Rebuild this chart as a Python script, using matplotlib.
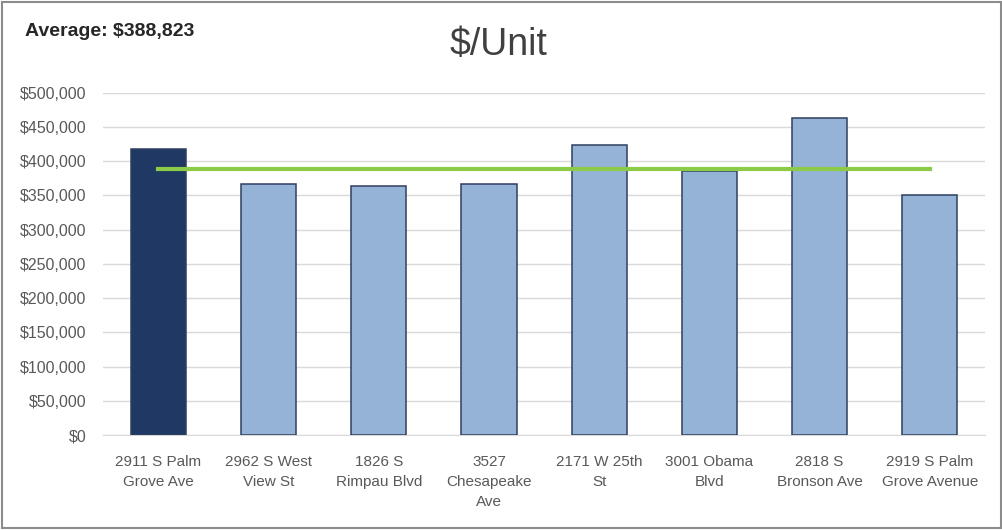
import matplotlib.pyplot as plt
from matplotlib.ticker import FuncFormatter, MultipleLocator

enderecos = ['2911 S Palm\nGrove Ave', '2962 S West\nView St', '1826 S\nRimpau Blvd',
             '3527\nChesapeake\nAve', '2171 W 25th\nSt', '3001 Obama\nBlvd',
             '2818 S\nBronson Ave', '2919 S Palm\nGrove Avenue']
valores = [417500, 367000, 364000, 367000, 424000, 386000, 462500, 350000]
media = 388823

plt.rcParams['font.family'] = ['Liberation Sans', 'DejaVu Sans']

fig = plt.figure(figsize=(10.03, 5.30), dpi=100)
ax = fig.add_axes([0.103, 0.179, 0.879, 0.646])

cores = ['#1F3864'] + ['#95B3D7'] * (len(valores) - 1)
posicoes = range(len(valores))
ax.bar(posicoes, valores, width=0.5, color=cores, edgecolor='#2F3F5F', linewidth=1.1, zorder=3)

# linha da media ligando o centro da primeira e da ultima barra
ax.plot([0, len(valores) - 1], [media, media], color='#8CCB47', linewidth=3, zorder=4)

ax.set_xlim(-0.5, len(valores) - 0.5)
ax.set_ylim(0, 500000)
ax.yaxis.set_major_locator(MultipleLocator(50000))
ax.yaxis.set_major_formatter(FuncFormatter(lambda v, p: f'${v:,.0f}'))
ax.grid(axis='y', color='#D9D9D9', linewidth=1, zorder=0)
for lado in ['top', 'right', 'left']:
    ax.spines[lado].set_visible(False)
ax.spines['bottom'].set_color('#D9D9D9')
ax.tick_params(axis='both', length=0, colors='#595959')
ax.tick_params(axis='y', pad=12, labelsize=11.5)
ax.tick_params(axis='x', pad=14, labelsize=11)
ax.set_xticks(list(posicoes))
ax.set_xticklabels(enderecos, linespacing=1.55, va='top')

fig.text(0.497, 0.915, '$/Unit', ha='center', va='center', fontsize=27, color='#404040')
fig.text(0.025, 0.94, 'Average: $388,823', ha='left', va='center', fontsize=14,
         fontweight='bold', color='#262626')

# moldura da figura
fig.patches.append(plt.Rectangle((0.002, 0.003), 0.996, 0.994, transform=fig.transFigure,
                                 fill=False, edgecolor='#8C8C8C', linewidth=1.5))

fig.savefig('out.png', dpi=100)
